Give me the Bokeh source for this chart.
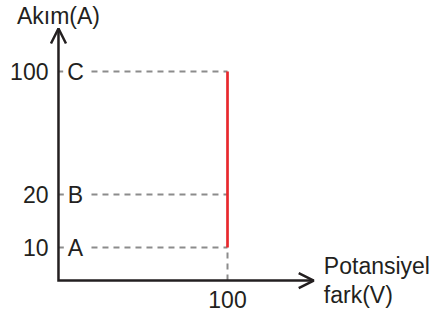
from bokeh.plotting import figure
from bokeh.models import Range1d, Arrow, OpenHead, ColumnDataSource
from bokeh.embed import file_html
from bokeh.resources import INLINE
from bokeh.core.properties import value

# ---- data ----
voltage = 100
currents = [10, 20, 100]
point_labels = ["A", "B", "C"]
y_tick_labels = ["10", "20", "100"]
x_ticks = [100]
x_tick_labels = ["100"]
y_title = "Akım(A)"
x_title_lines = ["Potansiyel", "fark(V)"]

# ---- axis extents (schematic diagram) ----
X_END = 151
Y_START = 6.49
Y_END = 175.5

FONT = "Liberation Sans"
INK = "#231f20"
GREY = "#8c8c8c"
RED = "#e8282d"
FS = "23px"

p = figure(width=441, height=316, x_range=Range1d(-34.3, 226.6), y_range=Range1d(4.055, 253.2),
           y_axis_type="log", output_backend="svg", toolbar_location=None,
           min_border_left=0, min_border_right=0, min_border_top=0, min_border_bottom=0)
p.outline_line_color = None
p.xaxis.visible = False
p.yaxis.visible = False
p.xgrid.visible = False
p.ygrid.visible = False
p.background_fill_color = "white"

txt = dict(text_font=value(FONT), text_font_size=FS, text_color=INK)

# dashed guide lines
src = ColumnDataSource(dict(x0=[0] * len(currents), x1=[voltage] * len(currents), y=currents,
                            t=point_labels, tick=y_tick_labels))
p.segment(x0="x0", y0="y", x1="x1", y1="y", source=src, line_color=GREY, line_width=2, line_dash="6 5")
p.segment(x0=[voltage], y0=[Y_START], x1=[voltage], y1=[min(currents)], line_color=GREY, line_width=2,
          line_dash="6 5")

# characteristic line
p.line(x=[voltage, voltage], y=[min(currents), max(currents)], line_color=RED, line_width=2.7)

# axes (with arrow heads)
p.line(x=[0, 0, X_END], y=[Y_END, Y_START, Y_START], line_color=INK, line_width=2.5, line_join="miter")
head = dict(size=15, line_color=INK, line_width=2.5)
p.add_layout(Arrow(end=OpenHead(**head), x_start=0, y_start=Y_START, x_end=X_END, y_end=Y_START,
                   line_alpha=0))
p.add_layout(Arrow(end=OpenHead(**head), x_start=0, y_start=Y_START, x_end=0, y_end=Y_END,
                   line_alpha=0))

# tick labels
p.text(x=0, y="y", text="tick", source=src, x_offset=-10, text_align="right", text_baseline="middle", **txt)
p.text(x=x_ticks, y=[Y_START] * len(x_ticks), text=x_tick_labels, y_offset=19, text_align="center",
       text_baseline="alphabetic", **txt)

# point letters
p.text(x=0, y="y", text="t", source=src, x_offset=17, text_align="center", text_baseline="middle",
       background_fill_color="white", padding=4, **txt)

# axis titles
p.text(x=[0], y=[Y_END], text=[y_title], y_offset=-13, text_align="center", text_baseline="alphabetic", **txt)
p.text(x=[X_END + 6], y=[Y_START], text=[x_title_lines[0]], y_offset=-15, text_align="left",
       text_baseline="alphabetic", **txt)
p.text(x=[X_END + 6], y=[Y_START], text=[x_title_lines[1]], y_offset=14, text_align="left",
       text_baseline="alphabetic", **txt)

open("out.html", "w").write(file_html(p, INLINE))
